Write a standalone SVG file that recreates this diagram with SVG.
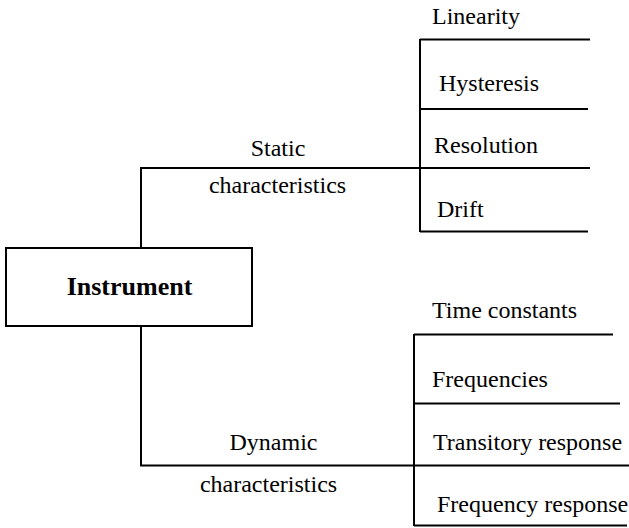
<svg xmlns="http://www.w3.org/2000/svg" width="629" height="528" viewBox="0 0 629 528" font-family="'Liberation Serif', 'Times New Roman', serif">
<style>
text{font-family:'Liberation Serif','Times New Roman',serif;font-size:24px;fill:#000}
.b{font-weight:bold;font-size:26px}
.ln{stroke:#000;stroke-width:2;fill:none}
</style>
<rect width="629" height="528" fill="#fff"/>
<g id="connectors">
<polyline class="ln" points="141,248 141,168 420,168"/>
<polyline class="ln" points="141,326 141,465.5 629,465.5"/>
<line class="ln" x1="420" y1="39" x2="420" y2="232"/>
<line class="ln" x1="420" y1="39.5" x2="590" y2="39.5"/>
<line class="ln" x1="420" y1="109" x2="588" y2="109"/>
<line class="ln" x1="420" y1="168" x2="590" y2="168"/>
<line class="ln" x1="420" y1="231.5" x2="588" y2="231.5"/>
<line class="ln" x1="414" y1="334" x2="414" y2="526"/>
<line class="ln" x1="414" y1="334.5" x2="613" y2="334.5"/>
<line class="ln" x1="414" y1="403.5" x2="620" y2="403.5"/>
<line class="ln" x1="414" y1="525.5" x2="627" y2="525.5"/>
<text x="278" y="156" text-anchor="middle">Static</text>
<text x="277.5" y="193" text-anchor="middle">characteristics</text>
<text x="273.5" y="450" text-anchor="middle">Dynamic</text>
<text x="268.5" y="492" text-anchor="middle">characteristics</text>
</g>
<g id="instrument">
<rect class="ln" x="6" y="248" width="246" height="78"/>
<text class="b" x="129.5" y="295" text-anchor="middle">Instrument</text>
</g>
<g id="linearity"><text x="432" y="24">Linearity</text></g>
<g id="hysteresis"><text x="439" y="91">Hysteresis</text></g>
<g id="resolution"><text x="434" y="153">Resolution</text></g>
<g id="drift"><text x="437" y="217">Drift</text></g>
<g id="time-constants"><text x="432" y="318">Time constants</text></g>
<g id="frequencies"><text x="432" y="387">Frequencies</text></g>
<g id="transitory-response"><text x="433" y="450">Transitory response</text></g>
<g id="frequency-response"><text x="437" y="512">Frequency response</text></g>
</svg>
